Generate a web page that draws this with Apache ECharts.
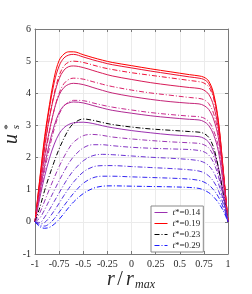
<!DOCTYPE html>
<html><head><meta charset="utf-8">
<script src="https://cdn.jsdelivr.net/npm/echarts@6/dist/echarts.min.js"></script>
<style>html,body{margin:0;padding:0;background:#fff}#c{width:252px;height:294px}</style>
</head><body><div id="c"></div>
<script>
// radial positions r/r_max
const rPos = [-1, -0.95, -0.9, -0.85, -0.8, -0.75, -0.7, -0.65, -0.6, -0.5, -0.4, -0.3, -0.2, 0, 0.2, 0.4, 0.6, 0.7, 0.75, 0.8, 0.85, 0.9, 0.95, 1];
const xTickLabels = ['-1', '-0.75', '-0.5', '-0.25', '0', '0.25', '0.5', '0.75', '1'];
const yTickLabels = ['-1', '0', '1', '2', '3', '4', '5', '6'];
// u_s* profiles, accelerating phase (solid)
const u014 = [0, 0.75, 1.42, 1.98, 2.42, 2.74, 2.93, 3.03, 3.08, 3.1, 3.06, 2.99, 2.93, 2.84, 2.77, 2.71, 2.67, 2.65, 2.6, 2.48, 2.2, 1.7, 0.92, 0];
const u015 = [0, 0.9, 1.75, 2.45, 3.0, 3.4, 3.62, 3.7, 3.73, 3.7, 3.62, 3.54, 3.47, 3.38, 3.3, 3.24, 3.19, 3.17, 3.12, 3.0, 2.72, 2.2, 1.2, 0];
const u016 = [0, 1.05, 2.05, 2.85, 3.5, 3.95, 4.18, 4.28, 4.31, 4.27, 4.18, 4.09, 4.01, 3.9, 3.81, 3.74, 3.69, 3.67, 3.62, 3.5, 3.2, 2.62, 1.42, 0];
const u017 = [0, 1.2, 2.35, 3.25, 3.95, 4.45, 4.72, 4.83, 4.85, 4.8, 4.71, 4.62, 4.54, 4.43, 4.33, 4.25, 4.18, 4.15, 4.1, 3.97, 3.62, 2.9, 1.55, 0];
const u018 = [0, 1.3, 2.55, 3.55, 4.35, 4.85, 5.1, 5.19, 5.21, 5.13, 5.04, 4.96, 4.89, 4.79, 4.69, 4.6, 4.51, 4.47, 4.43, 4.3, 3.92, 3.1, 1.62, 0];
const u019 = [0, 1.35, 2.65, 3.65, 4.5, 5.02, 5.22, 5.29, 5.29, 5.2, 5.11, 5.03, 4.96, 4.86, 4.76, 4.67, 4.58, 4.54, 4.5, 4.38, 4.0, 3.15, 1.65, 0];
// decelerating phase (dash-dot)
const u020 = [0, 1.15, 2.3, 3.25, 4.0, 4.55, 4.85, 4.97, 5.0, 4.96, 4.88, 4.8, 4.74, 4.64, 4.56, 4.48, 4.4, 4.36, 4.32, 4.2, 3.85, 3.05, 1.6, 0];
const u021 = [0, 1.0, 1.95, 2.8, 3.5, 4.0, 4.3, 4.43, 4.47, 4.44, 4.36, 4.28, 4.21, 4.1, 4.01, 3.94, 3.87, 3.84, 3.8, 3.68, 3.38, 2.75, 1.48, 0];
const u022 = [0, 0.8, 1.6, 2.3, 2.9, 3.35, 3.6, 3.73, 3.78, 3.77, 3.7, 3.63, 3.57, 3.48, 3.4, 3.34, 3.29, 3.27, 3.23, 3.12, 2.85, 2.35, 1.3, 0];
const u023 = [0, 0.45, 0.98, 1.45, 1.88, 2.27, 2.6, 2.88, 3.06, 3.2, 3.16, 3.09, 3.03, 2.95, 2.89, 2.85, 2.81, 2.79, 2.75, 2.63, 2.32, 1.7, 0.88, 0];
const u024 = [0, 0.28, 0.65, 1.02, 1.38, 1.72, 2.02, 2.28, 2.48, 2.68, 2.72, 2.69, 2.64, 2.58, 2.53, 2.49, 2.46, 2.44, 2.4, 2.3, 2.05, 1.55, 0.82, 0];
const u025 = [0, 0.12, 0.38, 0.68, 0.98, 1.28, 1.56, 1.82, 2.03, 2.3, 2.4, 2.4, 2.37, 2.32, 2.29, 2.27, 2.25, 2.22, 2.18, 2.08, 1.85, 1.42, 0.78, 0];
const u026 = [0, -0.02, 0.15, 0.38, 0.64, 0.9, 1.16, 1.4, 1.6, 1.9, 2.06, 2.1, 2.09, 2.05, 2.01, 1.98, 1.94, 1.9, 1.85, 1.75, 1.55, 1.2, 0.68, 0];
const u027 = [0, -0.07, -0.02, 0.14, 0.35, 0.58, 0.82, 1.04, 1.24, 1.55, 1.71, 1.75, 1.75, 1.72, 1.69, 1.66, 1.62, 1.58, 1.53, 1.43, 1.26, 0.98, 0.56, 0];
const u028 = [0, -0.12, -0.13, -0.05, 0.1, 0.3, 0.5, 0.7, 0.89, 1.2, 1.37, 1.42, 1.42, 1.4, 1.38, 1.36, 1.33, 1.29, 1.24, 1.15, 1.0, 0.78, 0.45, 0];
const u029 = [0, -0.15, -0.2, -0.17, -0.07, 0.08, 0.26, 0.45, 0.62, 0.88, 1.04, 1.11, 1.12, 1.11, 1.1, 1.09, 1.07, 1.04, 0.99, 0.91, 0.78, 0.6, 0.35, 0];

const times = ['0.14','0.15','0.16','0.17','0.18','0.19','0.20','0.21','0.22','0.23','0.24','0.25','0.26','0.27','0.28','0.29'];
const profiles = [u014,u015,u016,u017,u018,u019,u020,u021,u022,u023,u024,u025,u026,u027,u028,u029];
const colors = ['#9b30b0','#b02a94','#c52478','#d81c58','#ec1030','#ff0000',
                '#f0143c','#dc2068','#c82c90','#000000','#9a36b4','#8436c4','#6c34d4','#5430e2','#3628f0','#1a1aff'];
const legendTimes = ['0.14','0.19','0.23','0.29'];

const FONT = '"Liberation Serif", "Times New Roman", serif';
const series = profiles.map((p, i) => ({
  name: 't*=' + times[i],
  type: 'line',
  data: p.map((v, j) => [rPos[j], v]),
  smooth: 0.35,
  symbol: 'none',
  lineStyle: { width: 1, color: colors[i], type: i < 6 ? 'solid' : [5, 2, 1, 2] },
  itemStyle: { color: colors[i] },
  z: 3,
  animation: false
}));

const chart = echarts.init(document.getElementById('c'), null, { renderer: 'canvas' });
const axisLine = { show: true, onZero: false, lineStyle: { color: '#7a7a7a', width: 1 } };
const tick = { show: true, inside: true, length: 3, lineStyle: { color: '#7a7a7a' } };
chart.setOption({
  animation: false,
  backgroundColor: '#fff',
  grid: { left: 35, right: 24, top: 29, bottom: 40, containLabel: false },
  xAxis: [{
    type: 'value', min: -1, max: 1, interval: 0.25, position: 'bottom',
    axisLine: axisLine, axisTick: tick,
    axisLabel: { fontFamily: FONT, fontSize: 10, color: '#262626', margin: 5,
      formatter: v => xTickLabels[Math.round((v + 1) / 0.25)] },
    splitLine: { show: true, lineStyle: { color: '#ebebeb', width: 1 } }
  }, {
    type: 'value', min: -1, max: 1, interval: 0.25, position: 'top',
    axisLine: axisLine, axisTick: tick, axisLabel: { show: false }, splitLine: { show: false }
  }],
  yAxis: [{
    type: 'value', min: -1, max: 6, interval: 1, position: 'left',
    axisLine: axisLine, axisTick: tick,
    axisLabel: { fontFamily: FONT, fontSize: 10, color: '#262626', margin: 4,
      formatter: v => yTickLabels[Math.round(v + 1)] },
    splitLine: { show: true, lineStyle: { color: '#ebebeb', width: 1 } }
  }, {
    type: 'value', min: -1, max: 6, interval: 1, position: 'right',
    axisLine: axisLine, axisTick: tick, axisLabel: { show: false }, splitLine: { show: false }
  }],
  legend: {
    data: legendTimes.map(t => 't*=' + t),
    orient: 'vertical', left: 151, top: 206,
    itemWidth: 13, itemHeight: 8, itemGap: 2,
    padding: [2, 3, 2, 3],
    backgroundColor: '#fff', borderColor: '#8a8a8a', borderWidth: 1, borderRadius: 0,
    itemStyle: { opacity: 0 },
    lineStyle: { width: 1 },
    formatter: name => '{i|t}{n|' + name.slice(1) + '}',
    textStyle: { fontFamily: FONT, fontSize: 9, color: '#262626',
      rich: { i: { fontFamily: FONT, fontStyle: 'italic', fontSize: 9 }, n: { fontFamily: FONT, fontSize: 9 } } }
  },
  graphic: [
    { type: 'text', x: 12, y: 139, rotation: Math.PI / 2, z: 10,
      style: { text: 'u', font: 'italic 20px ' + FONT, fill: '#262626', align: 'center', verticalAlign: 'middle' } },
    { type: 'text', x: 16, y: 127, rotation: Math.PI / 2, z: 10,
      style: { text: 's', font: 'italic 11px ' + FONT, fill: '#262626', align: 'center', verticalAlign: 'middle' } },
    { type: 'text', x: 8, y: 127, rotation: Math.PI / 2, z: 10,
      style: { text: '*', font: '11px ' + FONT, fill: '#262626', align: 'center', verticalAlign: 'middle' } },
    { type: 'text', x: 111, y: 280, z: 10,
      style: { text: 'r', font: 'italic 20px ' + FONT, fill: '#262626', align: 'center', verticalAlign: 'middle' } },
    { type: 'text', x: 120, y: 280, z: 10,
      style: { text: '/', font: '20px ' + FONT, fill: '#262626', align: 'center', verticalAlign: 'middle' } },
    { type: 'text', x: 130, y: 280, z: 10,
      style: { text: 'r', font: 'italic 20px ' + FONT, fill: '#262626', align: 'center', verticalAlign: 'middle' } },
    { type: 'text', x: 135, y: 285, z: 10,
      style: { text: 'max', font: 'italic 12px ' + FONT, fill: '#262626', align: 'left', verticalAlign: 'middle' } }
  ],
  series: series
});
</script></body></html>
